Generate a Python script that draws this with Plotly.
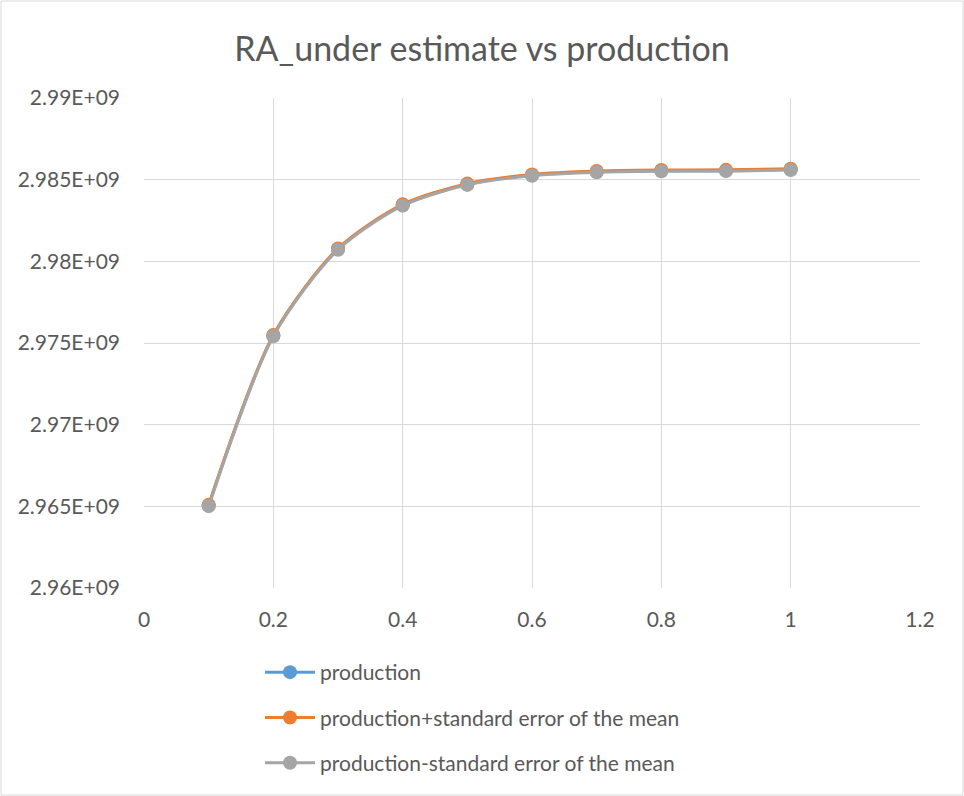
import plotly.graph_objects as go

# Sampling fraction on the x axis
fractions = [0.1, 0.2, 0.3, 0.4, 0.5, 0.6, 0.7, 0.8, 0.9, 1.0]

# RA under-estimate production and +/- standard error of the mean
production = [2.96505e9, 2.97545e9, 2.98075e9, 2.98345e9, 2.98472e9,
              2.98528e9, 2.98549e9, 2.98555e9, 2.98556e9, 2.98563e9]
production_plus_sem = [2.96509e9, 2.97549e9, 2.98079e9, 2.98349e9, 2.98476e9,
                       2.98532e9, 2.98553e9, 2.98559e9, 2.98560e9, 2.98567e9]
production_minus_sem = [2.96501e9, 2.97541e9, 2.98071e9, 2.98341e9, 2.98468e9,
                        2.98524e9, 2.98545e9, 2.98551e9, 2.98552e9, 2.98559e9]

series_names = ["production",
                "production+standard error of the mean",
                "production-standard error of the mean"]
series_colors = ["#5B9BD5", "#ED7D31", "#A5A5A5"]

y_tick_values = [2.96e9, 2.965e9, 2.97e9, 2.975e9, 2.98e9, 2.985e9, 2.99e9]
y_tick_labels = ["2.96E+09", "2.965E+09", "2.97E+09", "2.975E+09",
                 "2.98E+09", "2.985E+09", "2.99E+09"]
x_tick_values = [0, 0.2, 0.4, 0.6, 0.8, 1.0, 1.2]
x_tick_labels = ["0", "0.2", "0.4", "0.6", "0.8", "1", "1.2"]

W, H = 964, 796
ML, MR, MT, MB = 144, 44, 98, 208
PW, PH = W - ML - MR, H - MT - MB

fig = go.Figure()
for i, (name, ys, col) in enumerate(zip(series_names,
                                        [production, production_plus_sem, production_minus_sem],
                                        series_colors)):
    fig.add_trace(go.Scatter(
        x=fractions, y=ys, name=name, mode="lines+markers",
        line=dict(color=col, width=3, shape="spline", smoothing=0.8),
        marker=dict(color=col, size=14, symbol="circle"),
        legendgroup=f"g{i}",
    ))

text_col = "#595959"
grid_col = "#D9D9D9"
tick_size = 21

fig.update_layout(
    width=W, height=H,
    margin=dict(l=ML, r=MR, t=MT, b=MB),
    paper_bgcolor="white", plot_bgcolor="white",
    font=dict(family="Lato, 'Open Sans', sans-serif", color=text_col, size=tick_size),
    title=dict(text="RA_under estimate vs production", x=0.5, xanchor="center",
               y=1 - 49 / H, yanchor="middle",
               font=dict(size=34, color=text_col)),
    xaxis=dict(range=[0, 1.2], tickvals=x_tick_values, ticktext=x_tick_labels,
               showgrid=True, gridcolor=grid_col, gridwidth=1, zeroline=False,
               showline=False, ticks="", ticklabelstandoff=17,
               tickfont=dict(size=tick_size, color=text_col)),
    yaxis=dict(range=[2.96e9, 2.99e9], tickvals=y_tick_values, ticktext=y_tick_labels,
               showgrid=True, gridcolor=grid_col, gridwidth=1, zeroline=False,
               showline=False, ticks="", ticklabelstandoff=23,
               tickfont=dict(size=tick_size, color=text_col)),
    legend=dict(x=(260 - ML) / PW, xanchor="left", y=(588 - 652) / PH, yanchor="top",
                orientation="v", traceorder="grouped", tracegroupgap=15,
                font=dict(size=tick_size, color=text_col), bgcolor="rgba(0,0,0,0)",
                itemwidth=50),
    showlegend=True,
)

# Thin light border around the whole chart area
fig.add_shape(type="rect", xref="paper", yref="paper",
              x0=-(ML - 1) / PW, x1=1 + (MR - 1) / PW,
              y0=-(MB - 1) / PH, y1=1 + (MT - 1) / PH,
              line=dict(color=grid_col, width=1), fillcolor="rgba(0,0,0,0)",
              layer="below")

fig.write_html("out.html")
